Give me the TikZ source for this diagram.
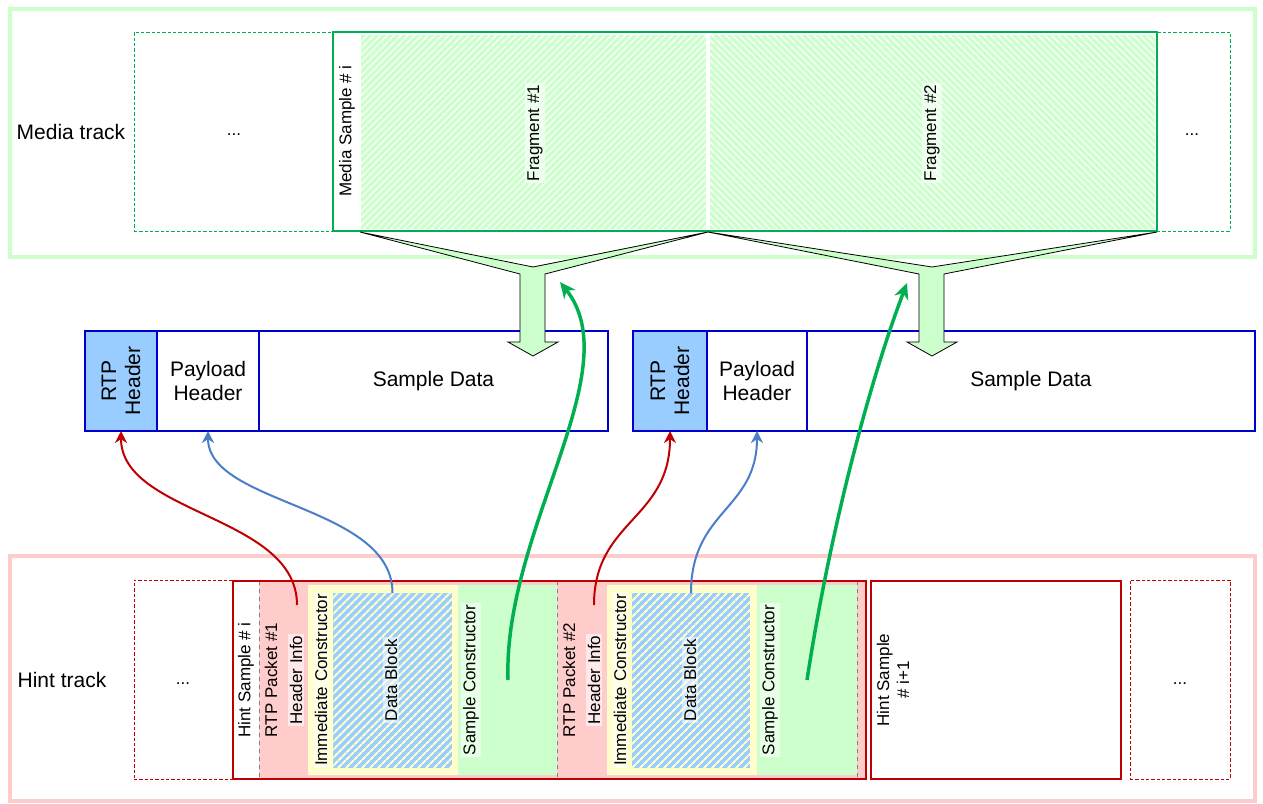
\documentclass[tikz,border=0pt]{standalone}
\usepackage{fontspec}
\setmainfont{Liberation Sans}
\usetikzlibrary{fit,arrows.meta,patterns.meta}

\definecolor{trackgreen}{HTML}{CCFFCC}
\definecolor{samplegreen}{HTML}{00B050}
\definecolor{fraggreen}{HTML}{CCFFCC}
\definecolor{pktblue}{HTML}{0000CC}
\definecolor{hdrblue}{HTML}{99CCFF}
\definecolor{trackred}{HTML}{FFCCCC}
\definecolor{samplered}{HTML}{C00000}
\definecolor{pktred}{HTML}{FFCCCC}
\definecolor{immyellow}{HTML}{FFFFCC}
\definecolor{linkblue}{HTML}{4A7EC9}
\definecolor{linkred}{HTML}{C00000}
\definecolor{linkgreen}{HTML}{00B050}

\tikzset{
  area/.style={inner sep=0pt, outer sep=0pt},
  trackframe/.style={area, draw=#1, line width=3pt},
  ghostbox/.style={area, draw=#1, line width=0.7pt, dash pattern=on 2.5pt off 1.5pt},
  samplebox/.style={area, draw=#1, line width=1.6pt},
  pktbox/.style={area, draw=pktblue, line width=1.4pt},
  region/.style={area, fill=#1},
  fragfill/.style={area, fill=fraggreen,
    postaction={pattern color=white, pattern={Lines[angle=#1,distance=3.6pt,line width=0.9pt]}}},
  blockfill/.style={area, fill=hdrblue,
    postaction={pattern color=immyellow, pattern={Lines[angle=45,distance=4pt,line width=1.7pt]}}},
  bigtext/.style={font=\fontsize{15.75}{18}\selectfont, align=center, inner sep=1pt},
  smalltext/.style={font=\fontsize{12.75}{15}\selectfont, align=center, inner sep=1.5pt},
  vlabel/.style={smalltext, rotate=90},
  glow/.style={fill=white, fill opacity=0.55, text opacity=1},
  blockarrow/.style={fill=fraggreen, draw=black, line width=0.6pt, line join=miter},
  redlink/.style={draw=linkred, line width=1.5pt, -{Stealth[length=9pt,width=9pt]}},
  bluelink/.style={draw=linkblue, line width=1.5pt, -{Stealth[length=9pt,width=9pt]}},
  greenlink/.style={draw=linkgreen, line width=2.6pt, -{Stealth[length=12pt,width=11pt]}},
  pktsep/.style={draw=gray, dashed, line width=0.6pt},
}

\begin{document}
\begin{tikzpicture}[x=0.75pt, y=-0.75pt]
\useasboundingbox (0,0) rectangle (1263,803);

% ---------- media track ----------
\node[trackframe=trackgreen, fit={(10,9)(1255,256.5)}] (mediatrack) {};
\node[bigtext] (mediatracklabel) at (71,132) {Media track};

\node[ghostbox=samplegreen, fit={(134,32)(333,231)}] (mprev) {};
\node[ghostbox=samplegreen, fit={(1157,32)(1230,231)}] (mnext) {};
\node[smalltext] (mprevdots) at (234,135) {...};
\node[smalltext] (mnextdots) at (1192,135) {...};

\node[fragfill=45, fit={(361,35)(706,229)}] (frag1) {};
\node[fragfill=-45, fit={(710,35)(1155,229)}] (frag2) {};
\node[samplebox=samplegreen, fit={(333,32)(1157,231)}] (msample) {};
\node[vlabel] (msamplelabel) at (347,131) {Media Sample \# i};
\node[vlabel, glow] (frag1label) at (535,133) {Fragment \#1};
\node[vlabel, glow] (frag2label) at (932,133) {Fragment \#2};

% ---------- RTP packets ----------
\node[pktbox, fill=hdrblue, fit={(85,331)(157,431)}] (rtp1) {};
\node[pktbox, fit={(157,331)(259,431)}] (pay1) {};
\node[pktbox, fit={(259,331)(608,431)}] (data1) {};
\node[bigtext, rotate=90] (rtp1label) at (rtp1.center) {RTP\\Header};
\node[bigtext] (pay1label) at (pay1.center) {Payload\\Header};
\node[bigtext] (data1label) at (data1.center) {Sample Data};

\node[pktbox, fill=hdrblue, fit={(633,331)(707,431)}] (rtp2) {};
\node[pktbox, fit={(707,331)(807,431)}] (pay2) {};
\node[pktbox, fit={(807,331)(1255,431)}] (data2) {};
\node[bigtext, rotate=90] (rtp2label) at (rtp2.center) {RTP\\Header};
\node[bigtext] (pay2label) at (pay2.center) {Payload\\Header};
\node[bigtext] (data2label) at (data2.center) {Sample Data};

% ---------- fragments poured into the packets ----------
\coordinate (f1l) at (360,232);
\coordinate (fmid) at (708,232);
\coordinate (f2r) at (1157,232);
\draw[blockarrow] (f1l) -- (533,267) -- (fmid) -- (545,274) -- (545,342) -- (558,342)
  -- (533,356) -- (508,342) -- (520,342) -- (520,274) -- cycle;
\draw[blockarrow] (fmid) -- (932,267) -- (f2r) -- (944,274) -- (944,342) -- (957,342)
  -- (932,356) -- (907,342) -- (919,342) -- (919,274) -- cycle;

% ---------- hint track ----------
\node[trackframe=trackred, fit={(10,556)(1255,801)}] (hinttrack) {};
\node[bigtext] (hinttracklabel) at (62,680) {Hint track};

\node[ghostbox=samplered, fit={(134,580)(233,779)}] (hprev) {};
\node[ghostbox=samplered, fit={(1130,580)(1230,779)}] (hnext) {};
\node[smalltext] (hprevdots) at (183,684) {...};
\node[smalltext] (hnextdots) at (1180,684) {...};

\node[region=pktred, fit={(259,581)(866,779)}] (packets) {};
\node[region=immyellow, fit={(308,585)(458,775)}] (imm1) {};
\node[region=immyellow, fit={(607,585)(757,775)}] (imm2) {};
\node[blockfill, fit={(333,593)(452,768)}] (db1) {};
\node[blockfill, fit={(632,593)(750,768)}] (db2) {};
\node[region=fraggreen, fit={(458,585)(557,775)}] (sc1) {};
\node[region=fraggreen, fit={(757,585)(857,775)}] (sc2) {};
\draw[pktsep] (259,581) -- (259,779);
\draw[pktsep] (557,581) -- (557,779);
\draw[pktsep] (857,581) -- (857,779);

\node[samplebox=samplered, fit={(233,581)(866,779)}] (hsample) {};
\node[samplebox=samplered, fit={(871,581)(1121,779)}] (hsample2) {};

\node[vlabel] (hsamplelabel) at (246,680) {Hint Sample \# i};
\node[vlabel] (pkt1label) at (271,680) {RTP Packet \#1};
\node[vlabel, glow] (hi1label) at (296,680) {Header Info};
\node[vlabel, glow] (imm1label) at (321,680) {Immediate Constructor};
\node[vlabel, glow] (db1label) at (391,680) {Data Block};
\node[vlabel, glow] (sc1label) at (471,680) {Sample Constructor};

\node[vlabel] (pkt2label) at (569,680) {RTP Packet \#2};
\node[vlabel, glow] (hi2label) at (594,680) {Header Info};
\node[vlabel, glow] (imm2label) at (620,680) {Immediate Constructor};
\node[vlabel, glow] (db2label) at (690,680) {Data Block};
\node[vlabel, glow] (sc2label) at (770,680) {Sample Constructor};

\node[vlabel] (hsample2label) at (893,680) {Hint Sample\\\# i+1};

% ---------- references from the hint samples ----------
\coordinate (hi1) at (297,605);
\coordinate (hi2) at (594,605);
\coordinate (sc1src) at (508,680);
\coordinate (sc2src) at (807,680);
\coordinate (frag1dst) at (560,282);
\coordinate (frag2dst) at (907,283);

\draw[redlink] (hi1) .. controls +(0,-90) and +(0,84) .. (rtp1.south);
\draw[bluelink] (db1.north) .. controls +(0,-88) and +(0,74) .. (pay1.south);
\draw[redlink] (hi2) .. controls +(0,-85) and +(0,89) .. (rtp2.south);
\draw[bluelink] (db2.north) .. controls +(0,-83) and +(0,79) .. (pay2.south);
\draw[greenlink] (sc1src) .. controls (503,530) and (630,370) .. (frag1dst);
\draw[greenlink] (sc2src) .. controls (830,530) and (870,380) .. (frag2dst);
\end{tikzpicture}
\end{document}
